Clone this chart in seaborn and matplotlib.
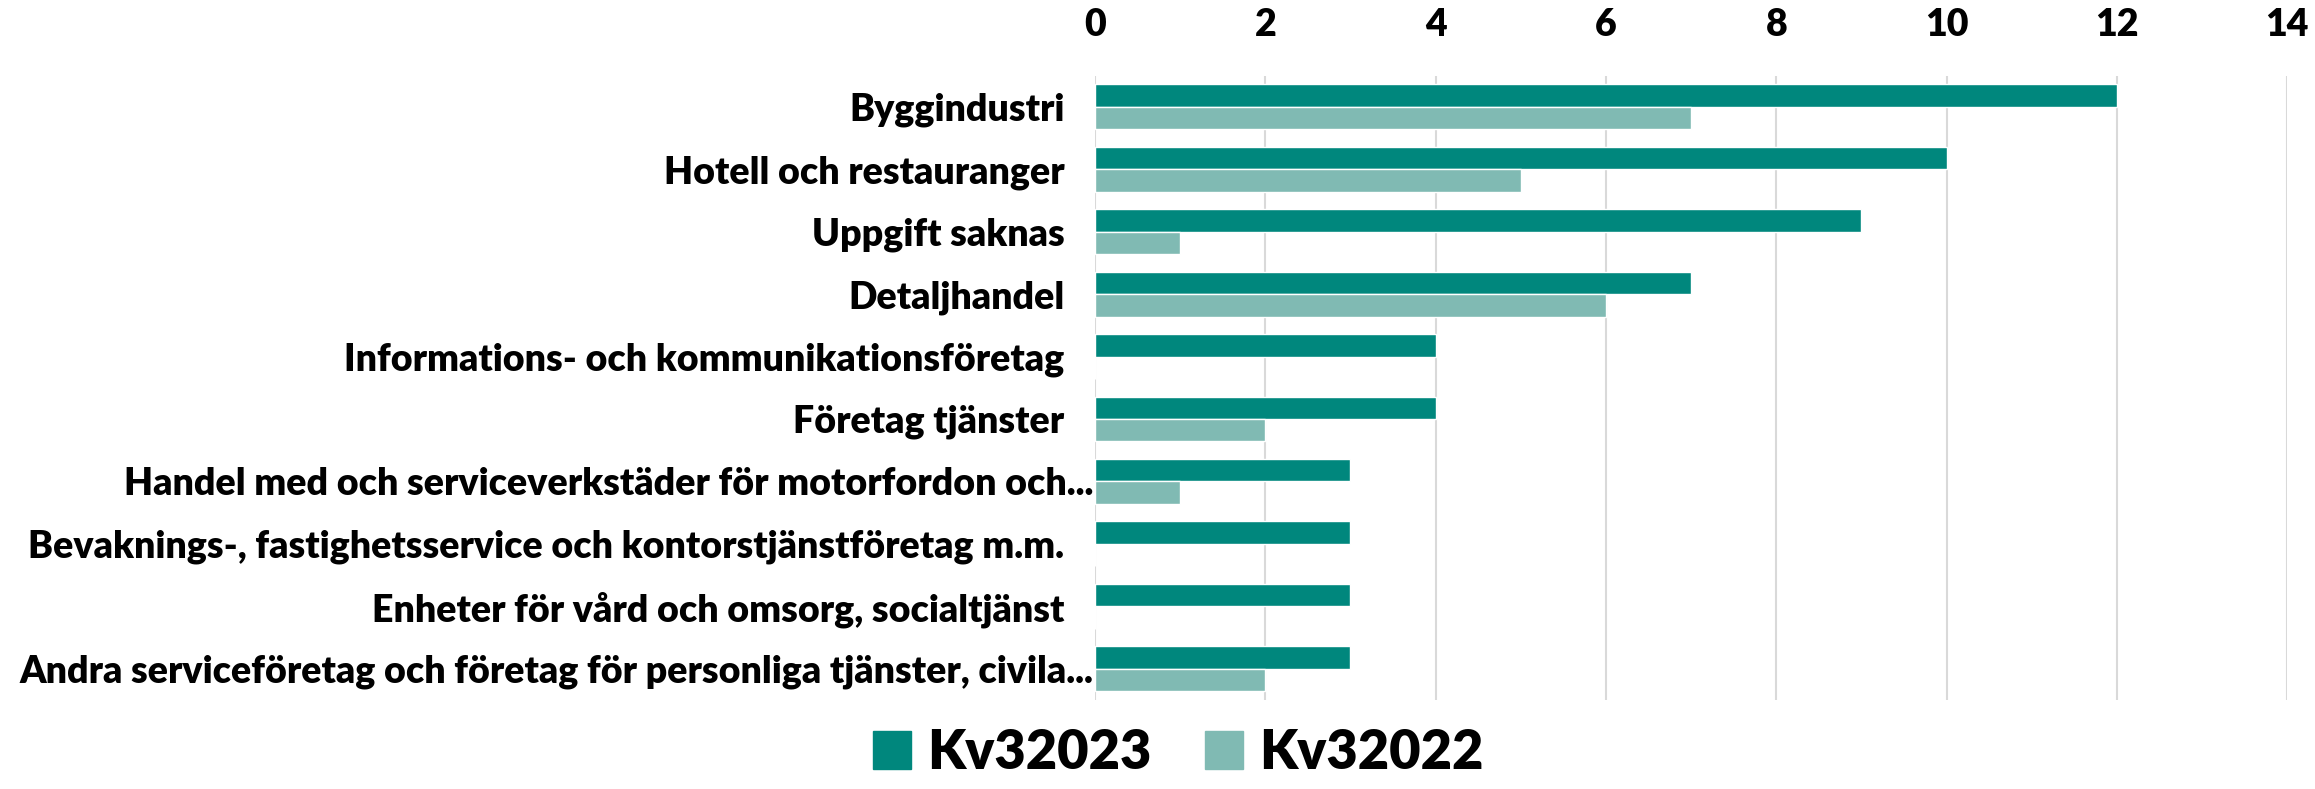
import matplotlib
matplotlib.use("Agg")
import matplotlib.pyplot as plt
import matplotlib.transforms as mtransforms
import pandas as pd
import seaborn as sns

categories = [
    "Byggindustri",
    "Hotell och restauranger",
    "Uppgift saknas",
    "Detaljhandel",
    "Informations- och kommunikationsföretag",
    "Företag tjänster",
    "Handel med och serviceverkstäder för motorfordon och...",
    "Bevaknings-, fastighetsservice och kontorstjänstföretag m.m.",
    "Enheter för vård och omsorg, socialtjänst",
    "Andra serviceföretag och företag för personliga tjänster, civila...",
]
kv32023 = [12, 10, 9, 7, 4, 4, 3, 3, 3, 3]
kv32022 = [7, 5, 1, 6, 0, 2, 1, 0, 0, 2]
series = ["Kv32023", "Kv32022"]
colors = ["#00877D", "#80BAB3"]
x_ticks = [0, 2, 4, 6, 8, 10, 12, 14]

df = pd.DataFrame({
    "category": categories * 2,
    "value": kv32023 + kv32022,
    "series": [series[0]] * len(categories) + [series[1]] * len(categories),
})

sns.set_theme(style="white")
plt.rcParams["font.family"] = ["Lato", "DejaVu Sans"]
plt.rcParams["text.color"] = "black"
plt.rcParams["xtick.color"] = "black"
plt.rcParams["ytick.color"] = "black"

fig = plt.figure(figsize=(23.15, 7.89), dpi=100)
ax = fig.add_axes([0.473, 0.113, 0.515, 0.791])

sns.barplot(
    data=df, x="value", y="category", hue="series", hue_order=series,
    palette=colors, orient="h", width=0.72, saturation=1, ax=ax,
)

ax.set_xlim(0, 14)
ax.set_xticks(x_ticks)
ax.xaxis.tick_top()
ax.tick_params(axis="x", length=0, pad=24, labelsize=27, labelcolor="black")
ax.tick_params(axis="y", length=0, pad=22, labelsize=27, labelcolor="black")
for lab in ax.get_xticklabels() + ax.get_yticklabels():
    lab.set_fontweight("heavy")
for lab in ax.get_yticklabels():
    if lab.get_text().endswith("..."):
        lab.set_transform(lab.get_transform() + mtransforms.ScaledTranslation(21 / 72, 0, fig.dpi_scale_trans))
ax.grid(axis="x", color="#D9D9D9", linewidth=1.5)
ax.set_axisbelow(True)
for s in ax.spines.values():
    s.set_visible(False)
ax.set_xlabel("")
ax.set_ylabel("")

ax.legend_.remove()
handles = [plt.Rectangle((0, 0), 1, 1, color=c) for c in colors]
fig.legend(
    handles, series, loc="lower center", bbox_to_anchor=(0.509, -0.048), ncol=2,
    frameon=False, prop={"size": 39, "weight": "heavy"},
    handlelength=0.7, handleheight=0.7, handletextpad=0.3, columnspacing=1.0,
)

fig.savefig("out.png", dpi=100)
